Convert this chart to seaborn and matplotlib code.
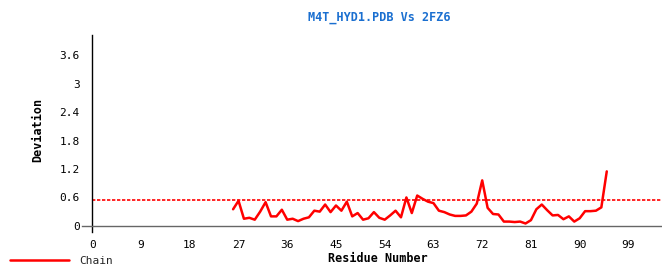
import numpy as np
import pandas as pd
import matplotlib
matplotlib.use("Agg")
import matplotlib.pyplot as plt
import seaborn as sns

residues = list(range(26, 96))
deviation = [0.35, 0.53, 0.15, 0.17, 0.13, 0.30, 0.50, 0.20, 0.20, 0.34,
             0.13, 0.15, 0.10, 0.15, 0.18, 0.32, 0.30, 0.45, 0.29, 0.43,
             0.32, 0.51, 0.20, 0.27, 0.13, 0.16, 0.29, 0.17, 0.13, 0.22,
             0.32, 0.18, 0.60, 0.27, 0.64, 0.57, 0.51, 0.48, 0.32, 0.29,
             0.24, 0.21, 0.21, 0.22, 0.30, 0.47, 0.96, 0.38, 0.25, 0.24,
             0.09, 0.09, 0.08, 0.09, 0.05, 0.12, 0.35, 0.45, 0.33, 0.22,
             0.23, 0.14, 0.20, 0.09, 0.16, 0.31, 0.31, 0.32, 0.39, 1.15]
threshold = 0.54
x_ticks = [0, 9, 18, 27, 36, 45, 54, 63, 72, 81, 90, 99]
y_ticks = [0, 0.6, 1.2, 1.8, 2.4, 3.0, 3.6]
y_tick_labels = ["0", "0.6", "1.2", "1.8", "2.4", "3", "3.6"]
title = "M4T_HYD1.PDB Vs 2FZ6"
series_name = "Chain"

df = pd.DataFrame({"Residue": residues, "Deviation": deviation})

sns.set_style("white")
plt.rcParams["font.family"] = ["DejaVu Sans Mono", "DejaVu Sans"]

fig = plt.figure(figsize=(6.62, 2.67), dpi=100)
ax = fig.add_axes([82 / 662, 35 / 267, 580 / 662, 197 / 267])

sns.lineplot(data=df, x="Residue", y="Deviation", ax=ax, color="#ff0000",
             linewidth=1.8, label=series_name, legend=False)

ax.set_xlim(-1.9, 105.2)
ax.set_ylim(-0.13, 4.03)
ax.hlines(threshold, 0, 105.2, colors="#ff0000", linestyles=(0, (2, 1)),
          linewidth=1.2)

for s in ["top", "right"]:
    ax.spines[s].set_visible(False)
ax.spines["left"].set_position(("data", 0))
ax.spines["bottom"].set_position(("data", 0))
ax.spines["left"].set_color("black")
ax.spines["bottom"].set_color("#666666")
ax.spines["left"].set_linewidth(1.0)
ax.spines["bottom"].set_linewidth(1.0)

ax.set_xticks(x_ticks)
ax.set_xticklabels([str(t) for t in x_ticks])
ax.set_yticks(y_ticks)
ax.set_yticklabels(y_tick_labels)
ax.tick_params(axis="both", which="both", direction="out", length=7,
               width=1, labelsize=8, colors="black", pad=2)
ax.tick_params(axis="y", color="#666666")
ax.tick_params(axis="x", color="black", length=8)

ax.set_xlabel("")
ax.set_ylabel("")
fig.text(378 / 662, 1 - 259 / 267, "Residue Number", ha="center", va="center",
         fontsize=8.5, fontweight="bold", color="black")
fig.text(38 / 662, 1 - 130 / 267, "Deviation", ha="center", va="center",
         rotation=90, fontsize=8.5, fontweight="bold", color="black")
fig.text(379 / 662, 1 - 18 / 267, title, ha="center", va="center",
         fontsize=8.5, fontweight="bold", color="#1a6fd0")

handles, labels = ax.get_legend_handles_labels()
leg = fig.legend(handles, labels, loc="center left",
                 bbox_to_anchor=(7 / 662, 1 - 261 / 267), frameon=False,
                 fontsize=8, handlelength=5.3, handletextpad=0.9,
                 borderaxespad=0, borderpad=0.3)

fig.savefig("out.png", dpi=100)
